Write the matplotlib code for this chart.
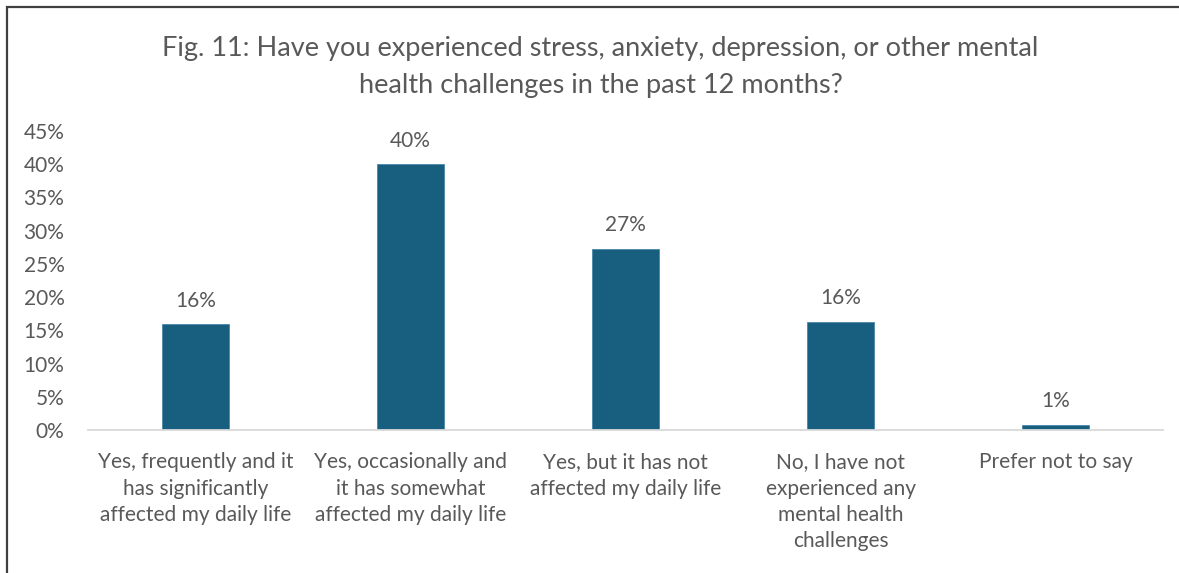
import matplotlib.pyplot as plt
from matplotlib.patches import Rectangle
from matplotlib.ticker import FuncFormatter

# Survey responses (share of respondents, %)
categories = [
    "Yes, frequently and it\nhas significantly\naffected my daily life",
    "Yes, occasionally and\nit has somewhat\naffected my daily life",
    "Yes, but it has not\naffected my daily life",
    "No, I have not\nexperienced any\nmental health\nchallenges",
    "Prefer not to say",
]
shares = [15.9, 40.0, 27.3, 16.3, 0.8]
yticks = [0, 5, 10, 15, 20, 25, 30, 35, 40, 45]

plt.rcParams['font.family'] = ['Lato', 'DejaVu Sans']
text_col = '#595959'
bar_col = '#185F7F'

fig = plt.figure(figsize=(11.79, 5.73), dpi=100)
ax = fig.add_axes([88 / 1179, 1 - 430 / 573, 1075 / 1179, 299 / 573])

x = range(len(categories))
bars = ax.bar(x, shares, width=0.31, color=bar_col, edgecolor='#4a86a8', linewidth=0.6)
for b, v in zip(bars, shares):
    ax.text(b.get_x() + b.get_width() / 2, v + 3.5, f"{v:.0f}%",
            ha='center', va='center', fontsize=15, color=text_col)

ax.set_xlim(-0.5, len(categories) - 0.5)
ax.set_ylim(0, 45)
ax.set_yticks(yticks)
ax.yaxis.set_major_formatter(FuncFormatter(lambda v, p: f"{v:.0f}%"))
ax.set_xticks(list(x))
ax.set_xticklabels(categories, fontsize=15, color=text_col, linespacing=1.4)
ax.tick_params(axis='y', labelsize=15, labelcolor=text_col, length=0, pad=17)
ax.tick_params(axis='x', length=0, pad=16)

for s in ['top', 'right', 'left']:
    ax.spines[s].set_visible(False)
ax.spines['bottom'].set_color('#d9d9d9')
ax.spines['bottom'].set_linewidth(1.3)

fig.text(0.5 + 11 / 1179, 1 - 67 / 573,
         "Fig. 11: Have you experienced stress, anxiety, depression, or other mental\nhealth challenges in the past 12 months?",
         ha='center', va='center', fontsize=19.5, color=text_col, linespacing=1.6)

# chart frame
fig.patches.append(Rectangle((6.5 / 1179, -0.1), 1.2, 1 - 7.5 / 573 + 0.1,
                             transform=fig.transFigure, fill=False,
                             edgecolor='#404040', linewidth=1.6))

fig.savefig('out.png', dpi=100)
